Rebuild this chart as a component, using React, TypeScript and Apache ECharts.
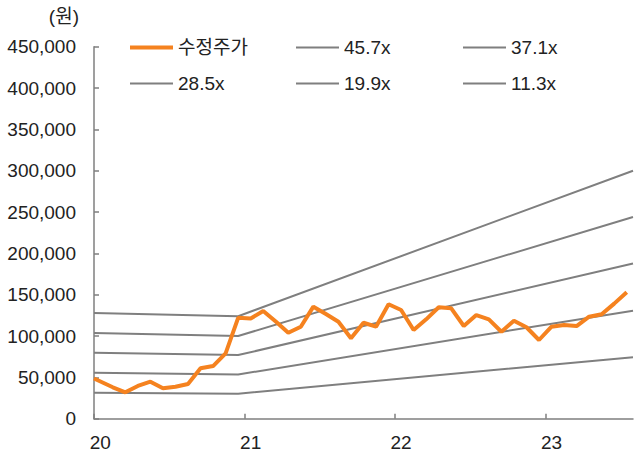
import React, { useEffect, useRef } from "react";
import * as echarts from "echarts";

// Months since Jan 2020 (x positions of the price points)
const priceMonths = [0, 1.5, 2.5, 3.5, 4.5, 5.5, 6.5, 7.5, 8.5, 9.5, 10.5, 11.5, 12.5, 13.5, 14.5, 15.5, 16.5, 17.5, 18.5, 19.5, 20.5, 21.5, 22.5, 23.5, 24.5, 25.5, 26.5, 27.5, 28.5, 29.5, 30.5, 31.5, 32.5, 33.5, 34.5, 35.5, 36.5, 37.5, 38.5, 39.5, 40.5, 41.5, 42.5];
const priceValues = [48600, 38000, 31900, 39600, 44800, 36800, 38700, 42000, 61000, 63700, 79100, 122000, 121200, 130300, 117600, 104000, 111300, 135500, 126600, 117300, 97300, 116100, 111300, 138400, 131500, 107300, 120200, 134800, 133500, 112100, 125400, 120200, 105200, 118500, 110600, 95200, 111300, 113300, 112100, 123400, 126300, 139200, 152900];

// PER band lines: x positions (months) and values
const bandMonths = [0, 11.5, 43];
const bandNames = ["45.7x", "37.1x", "28.5x", "19.9x", "11.3x"];
const band457 = [128000, 124000, 300000];
const band371 = [103600, 100000, 244000];
const band285 = [79800, 77000, 187700];
const band199 = [55700, 53500, 130700];
const band113 = [31300, 30300, 74300];
const bandValues = [band457, band371, band285, band199, band113];

const priceName = "수정주가";
const yearTickMonths = [0, 12, 24, 36];
const yearLabelMonths = [0.5, 12.5, 24.5, 36.5];
const yearLabels = ["20", "21", "22", "23"];
const unitLabel = "(원)";

const FONT = "'Liberation Sans', Arial, 'Noto Sans CJK KR', sans-serif";
const ORANGE = "#F5821F";
const GRAY = "#7F7F7F";

export default function App() {
  const ref = useRef<HTMLDivElement>(null);
  useEffect(() => {
    if (!ref.current) return;
    const chart = echarts.init(ref.current, null, { renderer: "svg" });
    const legendPos = [
      { name: priceName, left: 130, top: 38, h: 4 },
      { name: bandNames[0], left: 296, top: 38, h: 2 },
      { name: bandNames[1], left: 463, top: 38, h: 2 },
      { name: bandNames[2], left: 130, top: 74, h: 2 },
      { name: bandNames[3], left: 296, top: 74, h: 2 },
      { name: bandNames[4], left: 463, top: 74, h: 2 },
    ];
    const option: any = {
      animation: false,
      textStyle: { fontFamily: FONT },
      grid: { left: 94, right: 2, top: 46.7, bottom: 37.3, containLabel: false },
      legend: legendPos.map((l) => ({
        data: [l.name],
        left: l.left,
        top: l.top,
        padding: 0,
        itemWidth: 43,
        itemHeight: l.h,
        icon: "rect",
        textStyle: { fontSize: 19, color: "#222", fontFamily: FONT },
      })),
      graphic: [
        {
          type: "text",
          x: 79,
          y: 16.5,
          style: {
            text: unitLabel,
            align: "right",
            verticalAlign: "middle",
            fontSize: 19,
            fill: "#222",
            fontFamily: FONT,
          },
        },
      ],
      xAxis: {
        type: "value",
        min: 0,
        max: 43,
        interval: 12,
        splitLine: { show: false },
        axisLine: { show: true, lineStyle: { color: GRAY, width: 1.5 } },
        axisTick: {
          show: true,
          inside: true,
          length: 5,
          customValues: yearTickMonths,
          lineStyle: { color: GRAY, width: 1.5 },
        },
        axisLabel: {
          customValues: yearLabelMonths,
          formatter: (v: number) => {
            const i = yearLabelMonths.indexOf(v);
            return i >= 0 ? yearLabels[i] : "";
          },
          fontSize: 19,
          color: "#222",
          margin: 14,
          fontFamily: FONT,
        },
      },
      yAxis: {
        type: "value",
        min: 0,
        max: 450000,
        interval: 50000,
        splitLine: { show: false },
        axisLine: { show: true, lineStyle: { color: GRAY, width: 1.5 } },
        axisTick: { show: true, inside: true, length: 5, lineStyle: { color: GRAY, width: 1.5 } },
        axisLabel: {
          formatter: (v: number) => v.toLocaleString("en-US"),
          fontSize: 19,
          color: "#222",
          margin: 18,
          fontFamily: FONT,
        },
      },
      series: [
        {
          name: priceName,
          type: "line",
          data: priceMonths.map((m, i) => [m, priceValues[i]]),
          symbol: "none",
          z: 5,
          color: ORANGE,
          lineStyle: { color: ORANGE, width: 4 },
        },
        ...bandNames.map((n, bi) => ({
          name: n,
          type: "line",
          data: bandMonths.map((m, i) => [m, bandValues[bi][i]]),
          symbol: "none",
          z: 2,
          color: GRAY,
          lineStyle: { color: GRAY, width: 2 },
        })),
      ],
    };
    chart.setOption(option);
    return () => chart.dispose();
  }, []);
  return (
    <div
      ref={ref}
      style={{ position: "absolute", left: 0, top: 0, width: 635, height: 456, background: "#fff" }}
    />
  );
}
